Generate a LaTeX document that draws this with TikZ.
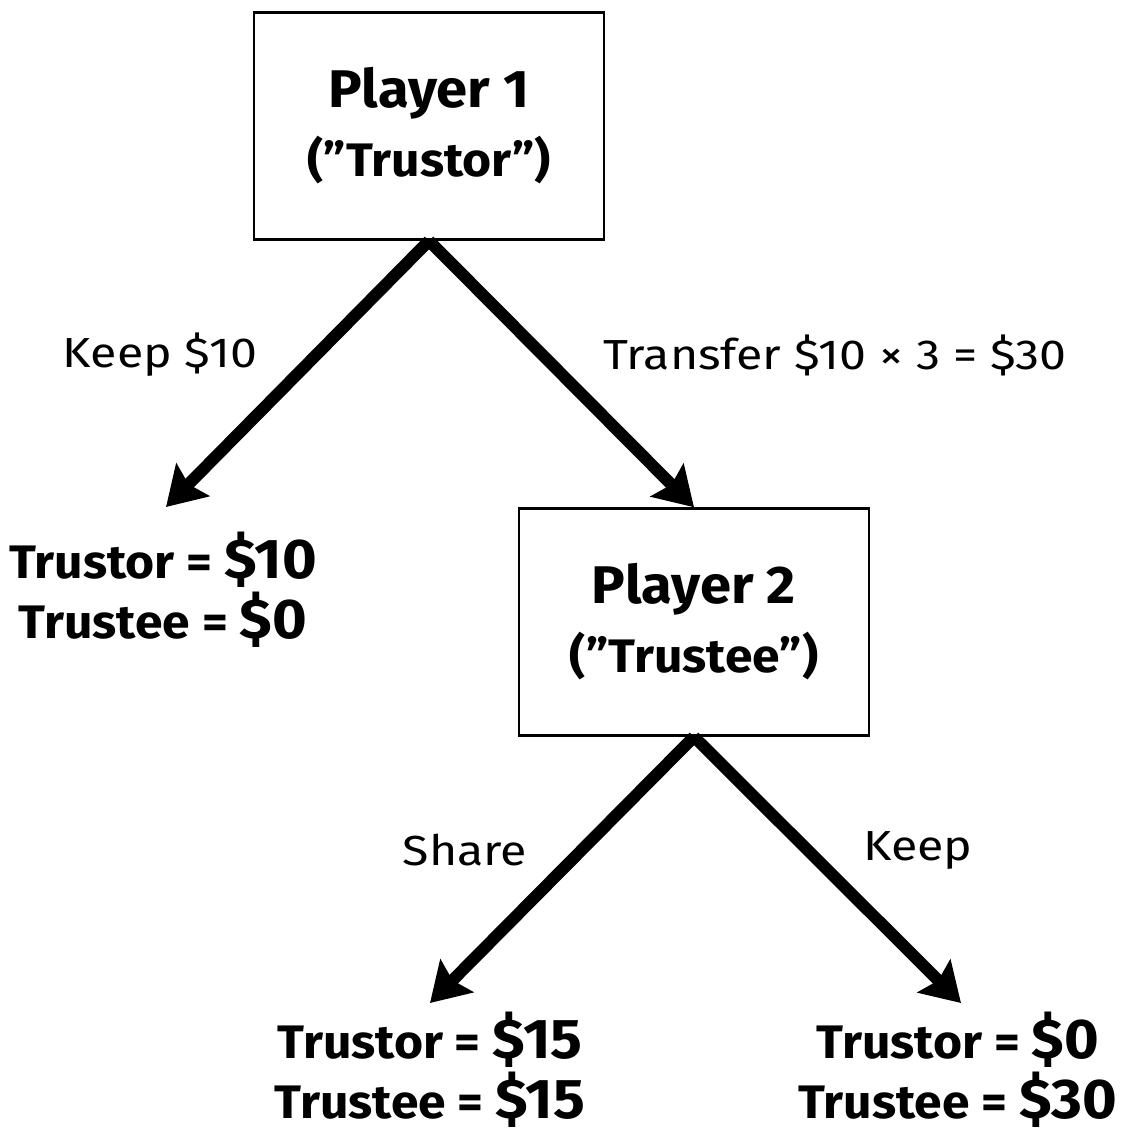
\documentclass[tikz,border=0pt]{standalone}
\usepackage{fontspec}
\setmainfont{Fira Sans}[FakeStretch=1.15, BoldFeatures={FakeStretch=1.06}]
\usetikzlibrary{positioning, arrows.meta}

\begin{document}
\begin{tikzpicture}
	[x=1pt, y=-1pt,
	 player/.style={draw, line width=2.5pt, minimum width=350pt, minimum height=227pt, align=center},
	 move/.style={line width=12pt, -{Stealth[length=38pt, width=46pt, inset=6pt]}},
	 payoff/.style={align=center, inner sep=0pt, font=\bfseries\fontsize{47}{60}\selectfont},
	 lbl/.style={font=\fontsize{42}{46}\selectfont}]
   \useasboundingbox (0,0) rectangle (1120,1133);
   \node[player] (p_1) at (429,126) {\fontsize{53}{60}\bfseries\selectfont Player 1\\[16pt]
      \fontsize{47}{50}\bfseries\selectfont (”Trustor”)};
   \node[player] (p_2) at (694,622) {\fontsize{53}{60}\bfseries\selectfont Player 2\\[16pt]
      \fontsize{47}{50}\bfseries\selectfont (”Trustee”)};
   \coordinate (e_1) at (166,507);
   \coordinate (e_3) at (430,1003);
   \coordinate (e_4) at (961,1003);
   % payoffs
   \node[payoff] (o_1) at (163,590) {Trustor = {\fontsize{56}{60}\selectfont\$10}\\Trustee = {\fontsize{56}{60}\selectfont\$0}};
   \node[payoff] (o_3) at (430,1070) {Trustor = {\fontsize{56}{60}\selectfont\$15}\\Trustee = {\fontsize{56}{60}\selectfont\$15}};
   \node[payoff] (o_4) at (958,1070) {Trustor = {\fontsize{56}{60}\selectfont\$0}\\Trustee = {\fontsize{56}{60}\selectfont\$30}};
   % moves
   \draw[move] (p_1.south) -- (e_1);
   \draw[move] (p_1.south) -- (p_2.north);
   \draw[move] (p_2.south) -- (e_3);
   \draw[move] (p_2.south) -- (e_4);
   \node[lbl] (l_1) at (160,355) {Keep \$10};
   \node[lbl] (l_2) at (835,355) {Transfer \$10 × 3 = \$30};
   \node[lbl] (l_3) at (465,850) {Share};
   \node[lbl] (l_4) at (918,850) {Keep};
\end{tikzpicture}
\end{document}
